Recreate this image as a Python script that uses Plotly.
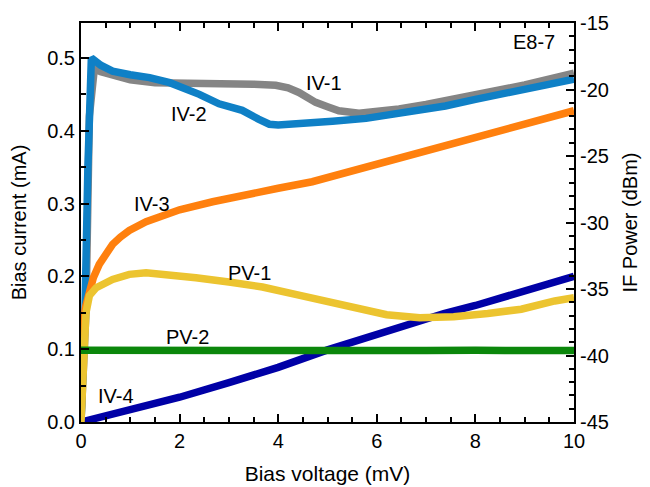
import plotly.graph_objects as go

# ---------------- data ----------------
iv1_v = [0, 0.1, 0.17, 0.27, 0.4, 0.64, 1.0, 1.5, 2.0, 2.4, 3.0, 3.5, 3.95, 4.2, 4.42, 4.76, 5.0, 5.23, 5.64, 6.0, 6.45, 7.0, 7.39, 8.0, 9.0, 10.0]
iv1_i = [0, 0.15, 0.42, 0.485, 0.481, 0.476, 0.47, 0.466, 0.466, 0.465, 0.465, 0.464, 0.4625, 0.459, 0.4526, 0.439, 0.433, 0.4275, 0.424, 0.426, 0.430, 0.436, 0.441, 0.449, 0.463, 0.479]

iv2_v = [0, 0.08, 0.14, 0.21, 0.4, 0.64, 1.0, 1.39, 1.8, 2.0, 2.4, 2.8, 3.27, 3.6, 3.82, 4.0, 4.42, 5.1, 5.78, 6.45, 7.39, 8.0, 9.0, 10.0]
iv2_i = [0, 0.15, 0.35, 0.5, 0.49, 0.482, 0.477, 0.473, 0.466, 0.461, 0.45, 0.437, 0.428, 0.416, 0.409, 0.408, 0.409, 0.413, 0.417, 0.423, 0.434, 0.443, 0.457, 0.471]

iv3_v = [0, 0.02, 0.05, 0.1, 0.17, 0.25, 0.37, 0.5, 0.64, 0.8, 0.98, 1.32, 1.65, 2.0, 2.67, 3.34, 4.0, 4.69, 5.5, 6.5, 7.5, 8.5, 9.5, 10.0]
iv3_i = [0, 0.1, 0.14, 0.16, 0.18, 0.198, 0.2165, 0.231, 0.244, 0.254, 0.263, 0.275, 0.284, 0.2915, 0.3025, 0.3125, 0.321, 0.33, 0.345, 0.363, 0.382, 0.4, 0.418, 0.4275]

iv4_v = [0, 1, 2, 3, 4, 5, 6, 7, 7.36, 8, 8.58, 9, 9.5, 10]
iv4_i = [0, 0.016, 0.034, 0.054, 0.075, 0.099, 0.121, 0.142, 0.149, 0.16, 0.1715, 0.181, 0.192, 0.2]

pv1_v = [0, 0.03, 0.06, 0.1, 0.17, 0.31, 0.64, 0.98, 1.32, 1.65, 2.33, 3.0, 3.68, 4.35, 4.96, 5.51, 6.2, 6.87, 7.56, 8.25, 8.93, 9.61, 10.0]
pv1_p = [-45, -42, -38.5, -36.8, -35.5, -34.9, -34.28, -33.9, -33.78, -33.86, -34.16, -34.48, -34.85, -35.4, -35.9, -36.34, -36.93, -37.16, -37.09, -36.84, -36.52, -35.9, -35.65]

pv2_v = [0, 1, 2, 3, 4, 5, 6, 7, 8, 8.3, 8.6, 9, 10]
pv2_p = [-39.6, -39.62, -39.6, -39.63, -39.6, -39.62, -39.6, -39.63, -39.6, -39.55, -39.62, -39.62, -39.62]

x_ticks = [0, 2, 4, 6, 8, 10]
y_ticks = [0.0, 0.1, 0.2, 0.3, 0.4, 0.5]
y2_ticks = [-45, -40, -35, -30, -25, -20, -15]
y2_labels = ["-45", "-40", "-35", "-30", "-25", "-20", "-15"]

labels = ["IV-1", "IV-2", "IV-3", "IV-4", "PV-1", "PV-2", "E8-7"]
label_x = [4.93, 2.20, 1.43, 0.71, 3.42, 2.17, 9.19]
label_y = [0.466, 0.4225, 0.30, 0.0364, 0.2049, 0.1162, 0.522]

# ---------------- figure ----------------
FONT = "Liberation Sans, Arial, sans-serif"
LW = 7.5

fig = go.Figure()
fig.add_trace(go.Scatter(x=iv1_v, y=iv1_i, mode="lines", line=dict(color="#858585", width=LW), name="IV-1"))
fig.add_trace(go.Scatter(x=iv2_v, y=iv2_i, mode="lines", line=dict(color="#0f80c6", width=LW), name="IV-2"))
fig.add_trace(go.Scatter(x=iv3_v, y=iv3_i, mode="lines", line=dict(color="#ff800e", width=LW), name="IV-3"))
fig.add_trace(go.Scatter(x=iv4_v, y=iv4_i, mode="lines", line=dict(color="#0000a6", width=LW), name="IV-4"))
fig.add_trace(go.Scatter(x=pv1_v, y=pv1_p, mode="lines", line=dict(color="#ecc430", width=LW), name="PV-1", yaxis="y2"))
fig.add_trace(go.Scatter(x=pv2_v, y=pv2_p, mode="lines", line=dict(color="#0b870b", width=LW), name="PV-2", yaxis="y2"))

for t, xx, yy in zip(labels, label_x, label_y):
    fig.add_annotation(x=xx, y=yy, xref="x", yref="y", text=t, showarrow=False,
                       font=dict(family=FONT, size=20, color="black"))

tf = dict(family=FONT, size=20, color="black")

fig.update_layout(
    width=650, height=487,
    margin=dict(l=81, r=75, t=20, b=65),
    plot_bgcolor="white",
    showlegend=False,
    xaxis=dict(
        range=[0, 10], tickmode="array", tickvals=x_ticks, tickfont=tf, automargin=False,
        ticks="inside", ticklen=8, tickwidth=1.5, tickcolor="black",
        showline=True, linewidth=2, linecolor="black", mirror="ticks",
        minor=dict(dtick=0.5, ticks="inside", ticklen=5),
        title=dict(text="Bias voltage (mV)", font=dict(family=FONT, size=21, color="black")),
    ),
    yaxis=dict(
        range=[0, 0.548], tickmode="array", tickvals=y_ticks, tickformat=".1f", tickfont=tf,
        ticks="inside", ticklen=8, tickwidth=1.5, tickcolor="black",
        showline=True, linewidth=2, linecolor="black",
        minor=dict(dtick=0.05, ticks="inside", ticklen=5),
        title=dict(text="Bias current (mA)", font=tf),
    ),
    yaxis2=dict(
        overlaying="y", side="right", range=[-45, -15], tickmode="array", tickvals=y2_ticks, ticktext=y2_labels, tickfont=tf,
        ticks="inside", ticklen=8, tickwidth=1.5, tickcolor="black",
        showline=True, linewidth=2, linecolor="black",
        minor=dict(dtick=1, ticks="inside", ticklen=5),
        title=dict(text="IF Power (dBm)", font=tf),
    ),
)

fig.write_html("out.html")
